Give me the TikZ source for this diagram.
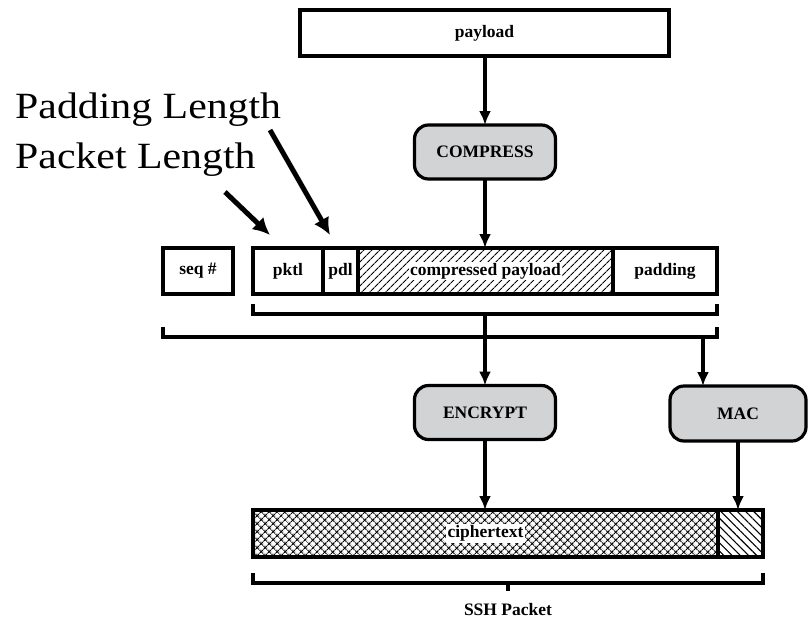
\documentclass[tikz,border=0pt]{standalone}
\usepackage{fontspec}
\usepackage{graphicx}
\setmainfont{Liberation Serif}
\usetikzlibrary{arrows.meta,patterns.meta,calc}

\definecolor{boxgray}{RGB}{210,211,212}
\def \rowy {271}
\def \rowh {46pt}
\def \boty {533.5}
\def \boxlw {3.2pt}
\def \labfont {\fontsize{17.5}{20}\selectfont\bfseries}
\def \notefont {\fontsize{37}{40}\selectfont}

\begin{document}
\begin{tikzpicture}[x=1pt, y=-1pt,
  field/.style={draw, line width=\boxlw, inner sep=0pt, outer sep=0pt, minimum height=\rowh, font=\labfont},
  proc/.style={draw, line width=\boxlw, rounded corners=14pt, fill=boxgray, inner sep=0pt, outer sep=0pt,
    minimum width=141pt, minimum height=54pt, font=\labfont},
  midtext/.style={fill=white, inner sep=1.5pt, font=\labfont},
  flow/.style={line width=3.3pt, -{Latex[length=14pt,width=12pt]}},
  note/.style={line width=5pt, -{Latex[length=17pt,width=17pt]}},
  brace/.style={line width=3.3pt}]
\useasboundingbox (0,0) rectangle (808,619);

% top
\node[field, minimum width=369pt] (payload) at (484.5,33) {payload};
\node[proc] (compress) at (485,152) {COMPRESS};

% packet fields
\node[field, minimum width=70pt] (seq) at (198,\rowy) {seq \#};
\node[field, minimum width=70pt] (pktl) at (288,\rowy) {pktl};
\node[field, minimum width=35pt] (pdl) at (340.5,\rowy) {pdl};
\node[field, minimum width=255pt, pattern={Lines[angle=45,distance=5.4pt,line width=1.1pt]},
  label={[midtext]center:compressed payload}] (cpay) at (485.5,\rowy) {};
\node[field, minimum width=104pt] (pad) at (665,\rowy) {padding};

% brackets
\draw[brace] ($(pktl.south west)+(0,10)$) |- ($(pad.south east)+(0,20)$) -- ++(0,-10);
\draw[brace] ($(seq.south west)+(0,33)$) |- ($(pad.south east)+(0,43)$) -- ++(0,-10);
\coordinate (b1) at (485,314);
\coordinate (b2) at (703,337);

\node[proc] (encrypt) at (485,412.5) {ENCRYPT};
\node[proc, minimum width=136pt, minimum height=55pt] (mac) at (738,413.5) {MAC};

% ssh packet
\node[field, minimum width=465pt, minimum height=47pt, pattern={Hatch[angle=45,distance=5.4pt,line width=1pt]},
  label={[midtext]center:ciphertext}] (cipher) at (485.5,\boty) {};
\node[field, minimum width=45pt, minimum height=47pt, pattern={Lines[angle=-45,distance=5.8pt,line width=1.1pt]}] (macf) at (740.5,\boty) {};
\draw[brace] ($(cipher.south west)+(0,16)$) |- ($(macf.south east)+(0,26)$) -- ++(0,-10);
\coordinate (b3) at (508,583);
\draw[brace] (b3) -- ++(0,8);
\node[anchor=base, font=\labfont] (ssh) at (508,615) {SSH Packet};

% flow arrows
\draw[flow] (compress |- payload.south) -- (compress);
\draw[flow] (compress) -- (compress |- cpay.north);
\draw[flow] (b1) -- (b1 |- encrypt.north);
\draw[flow] (b2) -- (b2 |- mac.north);
\draw[flow] (encrypt) -- (encrypt |- cipher.north);
\draw[flow] (mac) -- (mac |- macf.north);

% annotations
\node[anchor=base west, font=\notefont, inner sep=0pt] (padlen) at (15,118) {\scalebox{1.13}[1]{Padding Length}};
\node[anchor=base west, font=\notefont, inner sep=0pt] (pktlen) at (15,168) {\scalebox{1.13}[1]{Packet Length}};
\coordinate (padtail) at (270,130);
\coordinate (padtip) at (330,235);
\coordinate (pktltail) at (225,192);
\coordinate (pktltip) at (270,235);
\draw[note] (padtail) -- (padtip);
\draw[note] (pktltail) -- (pktltip);
\end{tikzpicture}
\end{document}
